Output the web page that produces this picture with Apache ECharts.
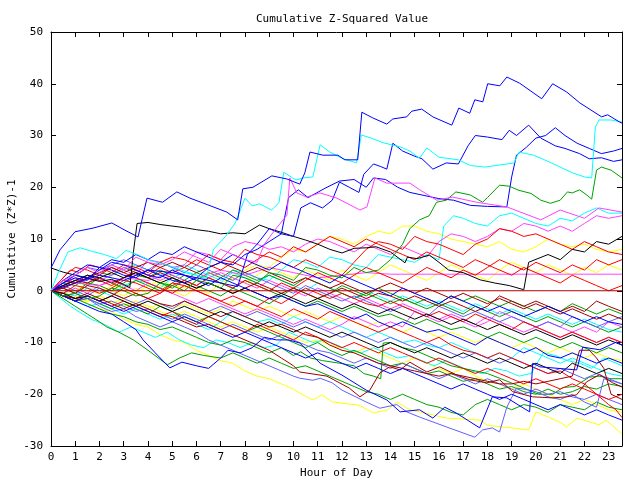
<!DOCTYPE html>
<html><head><meta charset="utf-8">
<script src="https://cdn.jsdelivr.net/npm/echarts@6/dist/echarts.min.js"></script>
<style>html,body{margin:0;padding:0;background:#fff}#c{width:640px;height:480px}</style>
</head><body><div id="c"></div>
<script>
// ---- tick labels ----
const xTicks = [0,1,2,3,4,5,6,7,8,9,10,11,12,13,14,15,16,17,18,19,20,21,22,23];
const yTicks = [-30,-20,-10,0,10,20,30,40,50];
// ---- series: [hour, cumulative value] vertices ----
const zeroLine = [[0,0],[23.55,0]];
const blueTop = [[0,4.4],[0.37,7.9],[0.99,11.4],[1.73,12.1],[2.51,13.1],[3.05,11.7],[3.59,10.4],[3.96,17.9],[4.6,17.1],[5.19,19.1],[5.73,17.9],[6.47,16.6],[7.25,15.2],[7.7,13.7],[7.91,19.7],[8.33,20.0],[9.11,22.2],[9.73,21.6],[10.26,20.6],[10.47,22.8],[10.68,26.8],[11.21,26.2],[11.83,26.2],[12.12,25.3],[12.65,25.3],[12.82,34.5],[13.27,33.4],[13.85,32.2],[14.1,33.2],[14.67,33.6],[14.88,34.7],[15.29,35.1],[15.75,33.6],[16.53,32.0],[16.82,35.3],[17.27,34.3],[17.48,36.9],[17.81,36.5],[18.01,40.0],[18.51,39.6],[18.8,41.3],[19.33,40.1],[20.24,37.1],[20.69,40.0],[21.27,38.4],[21.81,36.3],[22.71,33.6],[22.96,34.0],[23.45,32.6],[23.55,32.4]];
const cyanTop = [[0,0],[0.3,3.5],[0.7,7.5],[1.2,8.3],[1.7,7.6],[2.2,7],[2.7,6.2],[3.1,7.8],[3.6,6.9],[4.1,5.8],[4.6,5.2],[5.1,4.5],[5.5,3.8],[6,3],[6.4,2.4],[6.7,8],[7.2,10.5],[7.6,13.1],[8.0,17.9],[8.3,16.4],[8.6,16.8],[9.1,15.6],[9.4,17],[9.6,22.9],[10.1,21.4],[10.4,21.8],[10.8,22],[11.1,28.2],[11.5,26.8],[12,25.6],[12.6,24.7],[12.8,30.1],[13.2,29.5],[13.7,28.6],[14.4,27.8],[14.8,27],[15.2,25.6],[15.5,27.6],[16,25.8],[16.8,25.3],[17.3,24.2],[17.9,23.9],[18.5,24.3],[19.1,24.7],[19.3,26.8],[19.6,26.5],[19.9,26.2],[20.5,25],[21,23.9],[21.5,22.8],[22,22],[22.3,21.8],[22.45,31.6],[22.6,33],[23.1,33],[23.55,32.6]];
const blueMidA = [[0,0],[1,1.5],[2,3],[3,2],[4,4],[5,3.5],[6,2.5],[7,1.5],[7.7,0.8],[8.1,7],[8.5,9],[9,12],[9.5,11],[10,10.5],[10.3,16],[10.7,17],[11.2,16],[11.6,17.5],[11.9,21],[12.3,20],[12.7,19],[12.9,22.5],[13.3,24.5],[13.6,24],[13.85,23.5],[14.1,28.5],[14.5,27],[15,26],[15.3,25.5],[15.75,23.5],[16.3,24.7],[16.8,24.5],[17.2,28],[17.5,30],[18,29.7],[18.6,29.2],[18.9,31],[19.2,30],[19.7,32],[20.2,29.5],[20.8,28],[21.2,27.5],[21.8,26.5],[22.2,25.5],[22.7,25.7],[23.2,25],[23.55,25.3]];
const blueMidB = [[0,0],[0.5,1.5],[1,2.5],[1.5,2],[2,4.5],[2.5,4],[3,3],[3.5,2.5],[4,4],[4.5,3],[5,2],[5.5,1.5],[6,2.5],[6.5,4.5],[7,5.5],[7.5,5],[8,7],[8.5,8],[9,9.5],[9.5,11],[9.8,18],[10.2,19.5],[10.6,18],[11.3,19.8],[11.9,21.2],[12.5,21.5],[13,20],[13.3,21.8],[13.8,21.5],[14.3,20],[14.8,19],[15.3,18.5],[16,17.8],[16.6,17.5],[17.3,16.5],[18,16.3],[18.8,16.2],[19.0,22],[19.2,26.2],[19.6,27.7],[20,29.5],[20.4,30],[20.8,31.5],[21.2,30],[21.7,28.5],[22.2,27.5],[22.7,26.5],[23.2,27],[23.55,27.5]];
const magentaHigh = [[0,0],[0.5,2],[1,3],[1.5,4.5],[2,3.5],[2.5,5],[3,4],[3.5,6.5],[4,5.5],[4.5,5],[5,6],[5.5,7.5],[6,6.5],[6.5,5.5],[7,8],[7.5,7],[8,6],[8.5,5.5],[8.8,9],[9.23,11.7],[9.73,14.6],[9.85,21.8],[10.14,18.9],[10.55,18.1],[11.09,18.9],[11.79,17.9],[12.74,15.6],[13.03,16.2],[13.36,21.8],[13.85,20.8],[14.8,20.8],[15.21,19.5],[15.91,17.5],[16.57,18.1],[17.56,17.1],[18.8,16.2],[20.2,13.7],[21,15.6],[22,14],[22.6,16],[23.55,15.2]];
const greenHigh = [[0,0],[0.5,-1],[1,-0.5],[1.5,-1.5],[2,-1],[2.5,0.5],[3,0],[3.5,-1],[4,-0.5],[4.5,1.5],[5,1],[5.5,0],[6,2],[6.5,1.5],[7,0.5],[7.5,3],[8,2.5],[8.5,1.5],[9,3.5],[9.5,3],[10,2],[10.5,4.5],[11,4],[11.5,3],[12,2.5],[12.5,4.5],[13,3.5],[13.5,4],[14,6],[14.5,9],[14.8,12],[15.2,13.7],[15.6,14.5],[15.9,17.1],[16.3,17.5],[16.7,19.1],[17.3,18.5],[17.8,17.1],[18,18],[18.5,20.4],[18.9,20.2],[19.3,19.4],[19.8,18.8],[20.2,17.5],[20.6,16.9],[21,17.5],[21.3,19.1],[21.5,18.9],[21.8,19.5],[22.1,18.5],[22.3,17.7],[22.5,23.3],[22.7,23.9],[23.1,23.3],[23.55,21.8]];
const blackHigh = [[0,4.4],[0.5,3.6],[1,3],[1.5,2.4],[2,1.8],[2.5,2.2],[3,1.2],[3.25,0.6],[3.4,7.5],[3.55,13],[4,13.2],[4.5,12.8],[5,12.5],[5.5,12.2],[6,11.8],[6.5,11.5],[7,11],[7.5,11.2],[8,11],[8.6,12.7],[9,12],[9.5,11.3],[10,10.5],[10.5,9.8],[11,9],[11.5,8],[12,7.3],[12.5,8.2],[13,8.3],[13.4,8.5],[14,7.5],[14.6,5.4],[14.7,6.5],[15.1,6.2],[15.6,6.9],[16,5.5],[16.4,4],[17,3.5],[17.7,2.1],[18.3,1.5],[18.9,1],[19.5,0.2],[19.7,5.5],[20.5,7],[21,6],[21.5,8],[22,7.5],[22.5,9.5],[23,9],[23.55,10.5]];
const redHigh = [[0,0],[0.4,2],[0.8,4],[1.2,3.5],[1.6,5],[2,4.5],[2.5,3.5],[3,5],[3.5,4.5],[4,3.5],[4.5,5.5],[5,6.5],[5.5,6],[6,5],[6.5,7],[7,6],[7.5,5.5],[8,8],[8.5,7],[9,6.5],[9.5,5.5],[10,4.5],[10.5,6],[11,5],[11.5,4],[12,3],[12.5,5.5],[13,8],[13.5,9.5],[14,9],[14.5,8],[15,10.5],[15.5,9.5],[16,9],[16.5,8],[17,7],[17.5,9],[18,10],[18.5,12],[19,11.5],[19.5,10.5],[20,11],[20.5,10],[21,9],[21.5,8],[22,9.5],[22.5,8.5],[23,7.5],[23.55,7]];
const magentaMid = [[0,0],[0.5,1],[1,2.5],[1.5,1.5],[2,3],[2.5,5],[3,4],[3.5,3],[4,6],[4.5,5.5],[5,4.5],[5.5,5],[6,7.5],[6.5,7],[7,6],[7.5,8.5],[8,9.5],[8.5,9],[9,8],[9.5,8.5],[10,7.5],[10.5,9],[11,10],[11.5,9.5],[12,8.5],[12.5,7.5],[13,9],[13.5,8],[14,7],[14.5,8.5],[15,7.5],[15.5,6.5],[16,9.5],[16.5,11],[17,10.5],[17.5,9.5],[18,10.5],[18.5,12],[19,11.5],[19.5,13],[20,12.5],[20.5,11.5],[21,12.5],[21.5,11.5],[22,13],[22.5,14.5],[23,14],[23.55,14.5]];
const cyanMid = [[0,0],[0.5,-0.5],[1,-1],[1.5,0.5],[2,0],[2.5,-1],[3,1],[3.5,2],[4,1.5],[4.5,0.5],[5,2.5],[5.5,3.5],[6,3],[6.5,2],[7,1.5],[7.5,4],[8,3.5],[8.5,2.5],[9,2],[9.5,4],[10,6],[10.5,5.5],[11,4.5],[11.5,6.5],[12,6],[12.5,5],[13,4.5],[13.5,7],[14,6.5],[14.5,6],[15,5.5],[15.5,7],[16,6],[16.2,12.5],[16.6,14.5],[17,14],[17.5,13],[18,12.5],[18.5,14.5],[19,15],[19.5,14],[20,13],[20.5,12.5],[21,14],[21.5,13.5],[22,15],[22.5,16],[23,15],[23.55,15]];
const yellowHigh = [[0,0],[0.5,-1],[1,0.5],[1.5,0],[2,-0.5],[2.5,1],[3,0.5],[3.5,-0.5],[4,1],[4.5,2],[5,1],[5.5,0.5],[6,2],[6.5,3.5],[7,3],[7.5,2],[8,4],[8.5,5],[9,4.5],[9.5,6.5],[10,8],[10.5,7.5],[11,9],[11.5,10.5],[12,10],[12.5,9],[13,10.5],[13.5,11.5],[14,11],[14.5,12.5],[15,12.5],[15.5,11.5],[16,11],[16.5,10],[17,9.5],[17.5,9],[18,8.5],[18.5,9.5],[19,8],[19.5,7.5],[20,8.5],[20.5,10],[21,9],[21.5,8.5],[22,9],[22.5,8],[23,7.5],[23.55,8]];
const magentaFlat = [[0,0],[1,1.5],[2,1],[3,2.5],[4,2],[5,3.5],[6,2.5],[7,4],[8,3],[9,4.5],[10,3.5],[11,2.5],[12,3],[13,3.5],[14,3.2],[23.55,3.2]];
const redMid = [[0,0],[0.5,-0.5],[1,1],[1.5,0.5],[2,-0.5],[2.5,0.5],[3,2],[3.5,1.5],[4,0.5],[4.5,-0.5],[5,1.5],[5.5,1],[6,0],[6.5,-1],[7,-2],[7.5,-1],[8,-2],[8.5,-3],[9,-1.5],[9.5,-2.5],[10,-1],[10.5,0.5],[11,-0.5],[11.5,-1.5],[12,-0.5],[12.5,-1.5],[13,-2.5],[13.5,-3],[14,-2],[14.5,-3],[15,-4],[15.5,-5],[16,-4],[16.5,-5],[17,-6],[17.5,-4.5],[18,-5.5],[18.5,-6.5],[19,-7.5],[19.5,-6],[20,-7],[20.5,-8],[21,-9],[21.5,-8],[22,-9],[22.5,-10],[23,-9],[23.55,-10]];
const greenMid = [[0,0],[0.5,-1],[1,-2],[1.5,-1.5],[2,-2.5],[2.5,-3.5],[3,-2.5],[3.5,-3.5],[4,-4.5],[4.5,-3],[5,-4],[5.5,-5],[6,-6],[6.5,-5],[7,-6],[7.5,-7],[8,-8],[8.5,-7],[9,-8],[9.5,-9],[10,-10],[10.5,-11],[11,-10],[11.5,-11.5],[12,-12.5],[12.5,-11.5],[13,-12.5],[13.5,-13.5],[14,-14.5],[14.5,-14],[15,-15],[15.5,-16],[16,-15.5],[16.5,-16.5],[17,-17.5],[17.5,-17],[18,-18],[18.5,-19],[19,-18.5],[19.5,-19.5],[20,-20],[20.5,-19],[21,-20],[21.5,-19.5],[22,-18.5],[22.5,-19],[23,-18],[23.55,-18.5]];
const greenLowA = [[0,0],[0.5,-1],[1,-1.5],[1.5,-2.5],[2,-3.5],[2.5,-4.5],[3,-5],[3.5,-6],[4,-6.5],[4.5,-7.5],[5,-7],[5.5,-8],[6,-9],[6.5,-10],[7,-10.5],[7.5,-9.5],[8,-10],[8.5,-11],[9,-12],[9.5,-11],[10,-12.5],[10.3,-11.8],[10.7,-13],[11.2,-13.5],[11.9,-14],[12.5,-14.5],[12.9,-16],[13.3,-16.5],[13.6,-17],[13.7,-10.1],[14,-10],[14.5,-11],[15,-11.5],[15.5,-12.5],[16,-13.5],[16.5,-14.5],[17,-15],[17.5,-15.5],[18,-16],[18.5,-16.9],[19.3,-18.4],[20.1,-20],[20.7,-20],[21.1,-18.7],[21.6,-18.5],[22.2,-16.7],[22.6,-16.5],[23.1,-17],[23.55,-17]];
const greenLowB = [[0,0],[0.5,-1.5],[1,-3],[1.5,-4.5],[2,-6],[2.3,-7],[2.8,-8],[3.4,-9.5],[4,-11.5],[4.8,-14.3],[5.3,-13],[5.8,-12],[6.3,-12.5],[7,-13],[7.5,-12],[8,-13],[8.5,-14],[9,-13],[9.5,-14],[10,-15],[10.5,-14.5],[11,-15.5],[11.5,-16.5],[12,-17.5],[12.5,-18.5],[13,-19.5],[13.5,-20],[14,-21],[14.5,-20],[15,-21],[15.5,-22],[16,-22.5],[16.5,-23.5],[17,-24],[17.5,-22],[18,-21],[18.5,-22],[19,-23],[19.5,-22],[20,-22.5],[20.5,-23.5],[21,-22],[21.5,-22.5],[22,-23],[22.5,-21.5],[23,-22.5],[23.55,-23]];
const darkredLowA = [[0,0],[0.5,-1],[1,-1.5],[1.5,-0.5],[2,-1.5],[2.5,-2.5],[3,-3.5],[3.5,-2.5],[4,-3.5],[4.5,-4.5],[5,-5],[5.5,-6],[6,-7],[6.5,-6.5],[7,-7.5],[7.5,-8.5],[8,-9.5],[8.5,-10.5],[9,-11.5],[9.5,-13],[10,-14.5],[10.26,-15.7],[11.38,-16.5],[12.3,-18.8],[12.74,-20.5],[13.15,-19.2],[13.56,-15.9],[13.97,-14.7],[14.4,-15.3],[14.8,-13.8],[15.5,-15.7],[16.03,-14.7],[16.74,-16.3],[17.27,-17.2],[17.97,-17.8],[18.5,-17.2],[19.04,-19.5],[19.87,-20.5],[20.69,-20.7],[21.27,-20.5],[21.68,-20.1],[22.09,-17.6],[22.63,-16.2],[23.17,-17.8],[23.55,-18.6]];
const darkredLowB = [[0,0],[0.5,0.5],[1,-0.5],[1.5,1],[2,0.5],[2.5,-0.5],[3,-1.5],[3.5,-0.5],[4,-1.5],[4.5,-2.5],[5,-3],[5.5,-2],[6,-3],[6.5,-4],[7,-5],[7.5,-4],[8,-5],[8.5,-6],[9,-7],[9.5,-6.5],[10,-7.5],[10.5,-8.5],[11,-9],[11.5,-10.5],[12,-11.5],[12.5,-12],[13,-13],[13.5,-14],[14,-14.5],[14.5,-15],[15,-15.5],[15.5,-16],[16,-16.5],[16.5,-16],[17,-16.5],[17.5,-17],[18,-17.5],[18.5,-18],[19,-18],[19.5,-17.5],[20,-18],[20.5,-17.5],[21,-17],[21.5,-16.5],[21.8,-11.5],[22.2,-11.5],[22.5,-13],[22.8,-15],[23.1,-20],[23.55,-21]];
const slateLow = [[0,0],[0.5,-1],[1,-2],[1.5,-1.5],[2,-3],[2.5,-4],[3,-3.5],[3.5,-5],[4,-6],[4.5,-7],[5,-6],[5.5,-7],[6,-8],[6.5,-9.5],[7,-10.5],[7.5,-11.5],[8,-12.5],[8.5,-13.5],[9,-14.5],[9.5,-15.5],[10,-16.5],[10.26,-16.9],[10.8,-17.3],[11.1,-16.9],[11.6,-17.8],[12,-19.2],[13,-21.5],[13.56,-22.7],[14.26,-22],[14.67,-23.4],[15.2,-24.4],[16.3,-26.3],[17.48,-28.3],[17.8,-26.9],[18.2,-26.5],[18.5,-27.3],[18.8,-22.5],[19.2,-18.8],[19.5,-19],[20,-19.5],[20.5,-20.5],[21,-21],[21.5,-20],[22,-21.5],[22.5,-22.5],[22.8,-17],[23.2,-17.5],[23.55,-18]];
const blueLow = [[0,0],[0.5,-1],[1,-2],[1.5,-3],[2,-4],[2.5,-4.5],[3,-6],[3.5,-7.5],[3.8,-9.5],[4.3,-12],[4.9,-14.9],[5.4,-13.8],[6,-14.5],[6.5,-15],[7,-13],[7.3,-11.5],[7.8,-12],[8.3,-11],[8.8,-9],[9.3,-9.5],[9.8,-9.5],[10.26,-10.1],[11.1,-14],[12,-16.3],[13,-19.2],[13.85,-21.1],[14.4,-23.4],[15.2,-23],[15.75,-24.6],[16.24,-22.5],[16.74,-23.7],[17.68,-26.5],[18.2,-20.5],[18.8,-20.7],[19.74,-23.4],[19.87,-14],[20.16,-14.7],[21.68,-15.3],[21.93,-10.9],[22.63,-11.4],[23.33,-9.9],[23.55,-10.5]];
const yellowLowA = [[0,0],[0.5,-0.5],[1,-1.5],[1.5,-2],[2,-1],[2.5,-2],[3,-3],[3.5,-2],[4,-3],[4.5,-4],[5,-5],[5.5,-4],[6,-5],[6.5,-6],[7,-7],[7.5,-6],[8,-7],[8.5,-8],[9,-7],[9.5,-8],[10,-9],[10.5,-10],[11,-9.5],[11.5,-10.5],[12,-11],[12.5,-12],[13,-11],[13.5,-12],[14,-13],[14.5,-14],[15,-13],[15.5,-14],[16,-15],[16.5,-16],[17,-15],[17.5,-16.5],[18,-17.5],[18.5,-18],[19,-19],[19.5,-18],[20,-19],[20.5,-20],[21,-21],[21.5,-22],[22,-21],[22.5,-22],[23,-23],[23.55,-23.5]];
const yellowLowB = [[0,0],[0.5,-1.2],[1,-1.5],[1.5,-2.5],[2,-3.5],[2.5,-4],[3,-5.5],[3.5,-6.5],[4,-7],[4.5,-8.5],[5,-9.5],[5.5,-10],[6,-11.5],[6.5,-12.5],[7,-13.5],[7.5,-14],[8,-15.5],[8.5,-16.5],[9,-17],[9.5,-18],[10,-19],[10.26,-19.8],[10.8,-21.1],[11.17,-20.1],[11.6,-21.5],[12.7,-22.1],[13.3,-23.6],[13.85,-23.1],[14.26,-21.5],[14.8,-23],[15.75,-24],[16.3,-24.6],[17.7,-25],[18,-26],[19,-26.5],[19.7,-26.9],[20,-23.4],[21,-25.4],[21.27,-26.3],[21.7,-24.6],[22.6,-25.9],[22.9,-25],[23.55,-27.7]];
const cyanLow = [[0,0],[0.4,-1.5],[0.8,-3],[1.2,-4.2],[1.7,-5.6],[2.2,-6.5],[2.8,-8],[3.3,-7],[3.8,-8],[4.3,-9],[4.8,-8],[5.3,-9.5],[5.8,-10.5],[6.3,-11],[6.8,-9.5],[7.3,-10],[7.8,-11],[8.3,-10],[8.8,-11],[9.3,-10.5],[9.8,-8],[10.3,-9],[10.8,-10],[11.3,-9.5],[11.8,-10.5],[12.3,-11.5],[12.8,-12],[13.3,-11],[13.8,-12],[14.3,-13],[14.8,-12.5],[15.3,-13.5],[15.8,-14.5],[16.3,-13.5],[16.8,-14.5],[17.3,-15.5],[17.8,-16],[18.3,-15],[18.8,-15.5],[19.3,-16.5],[19.8,-16],[20.3,-12],[20.8,-12.5],[21.3,-13.5],[21.8,-14],[22.3,-15],[22.8,-13],[23.3,-14],[23.55,-14.5]];
const blueA = [[0,0],[0.5,1.5],[1,3],[1.5,2.5],[2,4],[2.5,5.5],[3,5],[3.5,4],[4,3],[4.5,2.5],[5,4],[5.5,3],[6,2],[6.5,1],[7,2.5],[7.5,1.5],[8,0.5],[8.5,-0.5],[9,-1.5],[9.5,-1],[10,-2],[10.5,-3],[11,-2.5],[11.5,-3.5],[12,-4.5],[12.5,-5.5],[13,-4.5],[13.5,-6],[14,-7],[14.5,-6],[15,-7],[15.5,-8],[16,-7.5],[16.5,-8.5],[17,-9.5],[17.5,-10.5],[18,-9],[18.5,-10],[19,-11],[19.5,-12],[20,-11],[20.5,-12.5],[21,-13],[21.5,-12],[22,-13],[22.5,-14],[23,-13],[23.55,-14]];
const redA = [[0,0],[0.3,1.5],[0.7,3.5],[1,4.5],[1.5,4],[2,3],[2.5,4.5],[3,3.5],[3.5,2.5],[4,1.5],[4.5,0.5],[5,-0.5],[5.5,1],[6,0],[6.5,-1],[7,-2],[7.5,-3],[8,-2],[8.5,-3],[9,-4],[9.5,-5],[10,-3.5],[10.5,-4.5],[11,-5.5],[11.5,-4],[12,-5],[12.5,-6],[13,-7],[13.5,-8],[14,-7],[14.5,-8],[15,-9],[15.5,-10],[16,-9],[16.5,-10.5],[17,-11.5],[17.5,-12],[18,-13],[18.5,-12],[19,-13],[19.5,-14],[20,-15],[20.5,-16],[21,-15.5],[21.5,-17],[22,-18],[22.5,-20],[23,-22],[23.3,-23],[23.55,-24.5]];
const greenA = [[0,0],[0.5,0.5],[1,-0.5],[1.5,1.5],[2,1],[2.5,0],[3,1.5],[3.5,3],[4,2.5],[4.5,1.5],[5,0.5],[5.5,2],[6,1],[6.5,0],[7,-1],[7.5,0.5],[8,-0.5],[8.5,-1.5],[9,-2.5],[9.5,-1],[10,-2],[10.5,-3],[11,-2],[11.5,-3],[12,-4],[12.5,-3],[13,-4],[13.5,-5],[14,-4.5],[14.5,-5.5],[15,-6.5],[15.5,-5.5],[16,-6.5],[16.5,-7.5],[17,-7],[17.5,-8],[18,-9],[18.5,-8],[19,-9],[19.5,-10],[20,-9],[20.5,-10],[21,-11],[21.5,-10],[22,-11],[22.5,-12],[23,-11],[23.55,-12]];
const magentaA = [[0,0],[0.5,-0.5],[1,0.5],[1.5,-0.5],[2,1],[2.5,2],[3,1],[3.5,0],[4,1.5],[4.5,0.5],[5,-0.5],[5.5,-1.5],[6,-2.5],[6.5,-1.5],[7,-2.5],[7.5,-3.5],[8,-4.5],[8.5,-3.5],[9,-4.5],[9.5,-5.5],[10,-6.5],[10.5,-5.5],[11,-6.5],[11.5,-7.5],[12,-6.5],[12.5,-5],[13,-6],[13.5,-7],[14,-6],[14.5,-7],[15,-4],[15.5,-5],[16,-6],[16.5,-5],[17,-6],[17.5,-7],[18,-6],[18.5,-4],[19,-5],[19.5,-6],[20,-7],[20.5,-6],[21,-7],[21.5,-8],[22,-7],[22.5,-8],[23,-6],[23.55,-7]];
const cyanA = [[0,0],[0.5,-1],[1,-2],[1.5,-3],[2,-2.5],[2.5,-3.5],[3,-4.5],[3.5,-3.5],[4,-4.5],[4.5,-5.5],[5,-4.5],[5.5,-5.5],[6,-6.5],[6.5,-7.5],[7,-6],[7.5,-4],[8,-5],[8.5,-6],[9,-5.5],[9.5,-6.5],[10,-5],[10.5,-6],[11,-7],[11.5,-6],[12,-7],[12.5,-8],[13,-9],[13.5,-8],[14,-9],[14.5,-10],[15,-9.5],[15.5,-10.5],[16,-11],[16.5,-10],[17,-11],[17.5,-12],[18,-13],[18.5,-12],[19,-13],[19.5,-11],[20,-12],[20.5,-13],[21,-14],[21.5,-13],[22,-14],[22.5,-15],[23,-16],[23.55,-16.5]];
const darkredA = [[0,0],[0.5,1],[1,2],[1.5,1.5],[2,2.5],[2.5,1.5],[3,2.5],[3.5,3.5],[4,2.5],[4.5,3.5],[5,2.5],[5.5,1.5],[6,0.5],[6.5,1.5],[7,0.5],[7.5,-0.5],[8,0.5],[8.5,1.5],[9,0.5],[9.5,-0.5],[10,0.5],[10.5,-0.5],[11,-1.5],[11.5,-0.5],[12,0.5],[12.5,-0.5],[13,-1.5],[13.5,-0.5],[14,-1],[14.5,-2],[15,-1],[15.5,-2],[16,-3],[16.5,-2],[17,-3],[17.5,-4],[18,-3],[18.5,-1],[19,-2],[19.5,-3],[20,-2],[20.5,-3],[21,-4],[21.5,-3],[22,-4],[22.5,-2],[23,-3],[23.55,-4]];
const yellowA = [[0,0],[0.5,1],[1,0],[1.5,1.5],[2,1],[2.5,0],[3,-1],[3.5,0.5],[4,-0.5],[4.5,1],[5,0],[5.5,-1],[6,0.5],[6.5,-0.5],[7,1.5],[7.5,2.5],[8,1.5],[8.5,3],[9,4.5],[9.5,3.5],[10,2.5],[10.5,4],[11,3],[11.5,2],[12,4],[12.5,3],[13,2],[13.5,3.5],[14,5],[14.5,4],[15,3],[15.5,2],[16,3.5],[16.5,5],[17,4],[17.5,3],[18,2],[18.5,4],[19,5.5],[19.5,4.5],[20,3.5],[20.5,5],[21,4],[21.5,3],[22,4.5],[22.5,3.5],[23,5],[23.55,4]];
const blackA = [[0,0],[0.5,-0.5],[1,-1.5],[1.5,-1],[2,-2],[2.5,-1],[3,-2],[3.5,-3],[4,-2],[4.5,-3],[5,-4],[5.5,-3],[6,-4],[6.5,-5],[7,-4],[7.5,-5],[8,-6],[8.5,-7],[9,-6],[9.5,-7],[10,-8],[10.5,-7],[11,-8],[11.5,-9],[12,-8],[12.5,-9],[13,-10],[13.5,-11],[14,-10],[14.5,-11],[15,-12],[15.5,-11],[16,-12],[16.5,-13],[17,-12],[17.5,-13],[18,-14],[18.5,-13],[19,-14],[19.5,-15],[20,-14],[20.5,-15],[21,-16],[21.5,-14],[22,-15],[22.5,-16],[23,-15],[23.55,-16]];
const slateA = [[0,0],[0.5,1.5],[1,3],[1.5,4.5],[2,4],[2.5,5],[3,6],[3.5,5],[4,4],[4.5,5.5],[5,4.5],[5.5,3.5],[6,5],[6.5,4],[7,3],[7.5,2],[8,3.5],[8.5,2.5],[9,1.5],[9.5,0.5],[10,-0.5],[10.5,1],[11,0],[11.5,-1],[12,-2],[12.5,-1],[13,-2],[13.5,-3],[14,-4],[14.5,-3],[15,-4],[15.5,-5],[16,-3],[16.5,-4],[17,-5],[17.5,-4],[18,-5],[18.5,-6],[19,-5],[19.5,-6],[20,-7],[20.5,-6],[21,-7],[21.5,-5],[22,-6],[22.5,-7],[23,-6],[23.55,-5]];
const redB = [[0,0],[0.5,-0.5],[1,-1.5],[1.5,-1],[2,-2],[2.5,-1],[3,0.5],[3.5,-0.5],[4,-1.5],[4.5,-0.5],[5,1],[5.5,2],[6,1],[6.5,2.5],[7,1.5],[7.5,0.5],[8,2],[8.5,1],[9,0],[9.5,1.5],[10,0.5],[10.5,2],[11,3.5],[11.5,2.5],[12,1.5],[12.5,3],[13,4.5],[13.5,3.5],[14,2.5],[14.5,1.5],[15,3],[15.5,4.5],[16,3.5],[16.5,2.5],[17,4],[17.5,3],[18,4.5],[18.5,6],[19,5],[19.5,4],[20,5.5],[20.5,4.5],[21,3.5],[21.5,5],[22,4],[22.5,6],[23,5],[23.55,6]];
const slateB = [[0,0],[0.5,-1],[1,-0.5],[1.5,-1.5],[2,-2.5],[2.5,-2],[3,-3],[3.5,-4],[4,-3.5],[4.5,-4.5],[5,-5.5],[5.5,-4.5],[6,-5.5],[6.5,-6.5],[7,-7.5],[7.5,-6.5],[8,-7.5],[8.5,-8.5],[9,-9.5],[9.5,-8.5],[10,-9.5],[10.5,-10.5],[11,-11.5],[11.5,-12],[12,-13],[12.5,-14],[13,-13],[13.5,-14],[14,-15],[14.5,-14],[15,-15],[15.5,-16],[16,-17],[16.5,-16],[17,-17],[17.5,-18],[18,-17],[18.5,-18],[19,-19],[19.5,-20],[20,-19],[20.5,-20],[21,-19.5],[21.5,-20.5],[22,-21],[22.5,-20],[23,-21],[23.55,-22]];
const greenB = [[0,0],[0.5,1],[1,2],[1.5,1],[2,2.5],[2.5,1.5],[3,0.5],[3.5,2],[4,1],[4.5,0],[5,1.5],[5.5,3],[6,2],[6.5,3.5],[7,2.5],[7.5,4],[8,3],[8.5,2],[9,3],[9.5,2],[10,1],[10.5,2.5],[11,1.5],[11.5,0.5],[12,-0.5],[12.5,-1.5],[13,-0.5],[13.5,-1.5],[14,-2.5],[14.5,-1.5],[15,-2.5],[15.5,-3.5],[16,-2.5],[16.5,-3.5],[17,-4.5],[17.5,-3],[18,-4],[18.5,-5],[19,-4],[19.5,-5],[20,-6],[20.5,-5],[21,-6],[21.5,-7],[22,-6],[22.5,-7],[23,-8],[23.55,-7]];
const redC = [[0,0],[0.5,2],[1,1.5],[1.5,3],[2,2],[2.5,1],[3,2.5],[3.5,4],[4,3],[4.5,4.5],[5,3.5],[5.5,4.5],[6,6],[6.5,5],[7,4],[7.5,5.5],[8,4.5],[8.5,6],[9,7.5],[9.5,6.5],[10,8.5],[10.5,7.5],[11,9],[11.5,10.5],[12,9.5],[12.5,8.5],[13,10],[13.5,9],[14,8],[14.5,7],[15,6],[15.5,7.5],[16,6.5],[16.5,5.5],[17,4.5],[17.5,6],[18,5],[18.5,4],[19,3],[19.5,4.5],[20,3.5],[20.5,2.5],[21,1.5],[21.5,3],[22,2],[22.5,1],[23,0],[23.55,1]];
const blueB = [[0,0],[0.5,2],[1,3.5],[1.5,5],[2,4.5],[2.5,6],[3,5.5],[3.5,7],[4,6],[4.5,7.5],[5,7],[5.5,8.5],[6,7.5],[6.5,6.5],[7,5.5],[7.5,7],[8,6],[8.5,5],[9,4],[9.5,5.5],[10,4.5],[10.5,3.5],[11,2.5],[11.5,1.5],[12,3],[12.5,2],[13,1],[13.5,0],[14,-1],[14.5,0.5],[15,-0.5],[15.5,-1.5],[16,-2.5],[16.5,-1],[17,-2],[17.5,-3],[18,-4],[18.5,-3],[19,-4],[19.5,-5],[20,-4],[20.5,-3],[21,-4],[21.5,-5],[22,-6],[22.5,-5],[23,-6],[23.55,-6.5]];
const redD = [[0,0],[0.5,-1],[1,-2],[1.5,-1],[2,-2],[2.5,-3],[3,-2],[3.5,-3],[4,-4],[4.5,-5],[5,-4],[5.5,-5.5],[6,-6.5],[6.5,-5],[7,-6],[7.5,-7],[8,-8],[8.5,-6.5],[9,-7.5],[9.5,-8.5],[10,-9.5],[10.5,-8],[11,-9],[11.5,-10],[12,-11],[12.5,-10],[13,-11],[13.5,-12],[14,-11],[14.5,-12],[15,-13],[15.5,-14],[16,-13],[16.5,-14],[17,-15],[17.5,-16],[18,-15],[18.5,-16],[19,-17],[19.5,-18],[20,-17],[20.5,-18],[21,-19],[21.5,-18],[22,-19],[22.5,-20],[23,-21],[23.55,-20]];
const greenC = [[0,0],[0.5,1.5],[1,1],[1.5,2.5],[2,3.5],[2.5,3],[3,4.5],[3.5,3.5],[4,2.5],[4.5,4],[5,3],[5.5,2],[6,3.5],[6.5,2.5],[7,1.5],[7.5,0.5],[8,2],[8.5,1],[9,0],[9.5,-1],[10,0.5],[10.5,-0.5],[11,-1.5],[11.5,-0.5],[12,1],[12.5,0],[13,-1],[13.5,0.5],[14,-0.5],[14.5,-1.5],[15,-2.5],[15.5,-1.5],[16,-2.5],[16.5,-1],[17,-2],[17.5,-1],[18,-2],[18.5,-3],[19,-2],[19.5,-3],[20,-4],[20.5,-3],[21,-4],[21.5,-2.5],[22,-3.5],[22.5,-4.5],[23,-3.5],[23.55,-4.5]];
const blueC = [[0,0],[0.5,-1],[1,-2],[1.5,-1],[2,-2],[2.5,-3],[3,-4],[3.5,-3],[4,-4],[4.5,-5],[5,-6],[5.5,-5],[6,-6],[6.5,-7],[7,-8],[7.5,-9],[8,-8],[8.5,-9],[9,-10],[9.5,-11],[10,-12],[10.5,-13],[11,-12],[11.5,-13],[12,-14],[12.5,-15],[13,-14],[13.5,-15],[14,-16],[14.5,-15],[15,-16],[15.5,-17],[16,-18],[16.5,-19],[17,-18],[17.5,-19],[18,-20],[18.5,-21],[19,-20],[19.5,-21],[20,-22],[20.5,-23],[21,-22],[21.5,-23],[22,-24],[22.5,-23],[23,-24],[23.55,-25]];
const magentaB = [[0,0],[0.5,0.5],[1,1.5],[1.5,2.5],[2,2],[2.5,3],[3,4.5],[3.5,4],[4,3],[4.5,2],[5,3],[5.5,2],[6,1],[6.5,2.5],[7,3.5],[7.5,2.5],[8,1.5],[8.5,0.5],[9,2],[9.5,1],[10,0],[10.5,-1],[11,0.5],[11.5,-0.5],[12,-1.5],[12.5,-2.5],[13,-1.5],[13.5,-2.5],[14,-3.5],[14.5,-2.5],[15,-3.5],[15.5,-4.5],[16,-5.5],[16.5,-4.5],[17,-5.5],[17.5,-6.5],[18,-5],[18.5,-6],[19,-7],[19.5,-8],[20,-7],[20.5,-8],[21,-9],[21.5,-8],[22,-9],[22.5,-10],[23,-9],[23.55,-10]];
const darkredB = [[0,0],[0.5,0.5],[1,1.5],[1.5,2.5],[2,3.5],[2.5,4.5],[3,3.5],[3.5,4.5],[4,5.5],[4.5,4.5],[5,5.5],[5.5,4.5],[6,3.5],[6.5,4.5],[7,5.5],[7.5,4.5],[8,3.5],[8.5,4.5],[9,3.5],[9.5,2.5],[10,1.5],[10.5,2.5],[11,1.5],[11.5,0.5],[12,1.5],[12.5,0.5],[13,-0.5],[13.5,0.5],[14,1.5],[14.5,0.5],[15,-0.5],[15.5,0.5],[16,-0.5],[16.5,-1.5],[17,-0.5],[17.5,-1.5],[18,-2.5],[18.5,-1.5],[19,-2.5],[19.5,-3.5],[20,-2.5],[20.5,-3.5],[21,-4.5],[21.5,-3.5],[22,-4.5],[22.5,-5.5],[23,-4.5],[23.55,-5.5]];
const slateC = [[0,0],[0.5,1],[1,0],[1.5,-1],[2,0.5],[2.5,-0.5],[3,-1.5],[3.5,-2.5],[4,-1.5],[4.5,-2.5],[5,-3.5],[5.5,-2],[6,-3],[6.5,-4],[7,-3],[7.5,-4],[8,-5],[8.5,-4],[9,-5],[9.5,-6],[10,-7],[10.5,-6],[11,-7],[11.5,-8],[12,-9],[12.5,-8],[13,-9],[13.5,-10],[14,-9],[14.5,-10],[15,-11],[15.5,-10],[16,-11],[16.5,-12],[17,-13],[17.5,-12],[18,-13],[18.5,-14],[19,-13],[19.5,-14],[20,-15],[20.5,-16],[21,-15],[21.5,-16],[22,-17],[22.5,-16],[23,-17],[23.55,-18]];
const cyanB = [[0,0],[0.5,1],[1,2],[1.5,3],[2,2],[2.5,3],[3,4],[3.5,5],[4,4],[4.5,3],[5,4],[5.5,5],[6,4],[6.5,3],[7,2],[7.5,3.5],[8,2.5],[8.5,1.5],[9,3],[9.5,2],[10,1],[10.5,0],[11,1.5],[11.5,0.5],[12,-0.5],[12.5,-1.5],[13,0],[13.5,-1],[14,-2],[14.5,-1],[15,-2],[15.5,-3],[16,-2],[16.5,-3],[17,-4],[17.5,-2.5],[18,-3.5],[18.5,-4.5],[19,-3.5],[19.5,-4.5],[20,-5.5],[20.5,-4.5],[21,-5.5],[21.5,-6.5],[22,-5.5],[22.5,-6.5],[23,-7.5],[23.55,-8]];
const blackB = [[0,0],[0.5,1],[1,2],[1.5,3],[2,2.5],[2.5,3.5],[3,2.5],[3.5,3.5],[4,2.5],[4.5,1.5],[5,2.5],[5.5,1.5],[6,0.5],[6.5,1.5],[7,0.5],[7.5,-0.5],[8,0.5],[8.5,-0.5],[9,-1.5],[9.5,-0.5],[10,-1.5],[10.5,-2.5],[11,-1.5],[11.5,-2.5],[12,-3.5],[12.5,-2.5],[13,-3.5],[13.5,-4.5],[14,-3.5],[14.5,-4.5],[15,-5.5],[15.5,-4.5],[16,-5.5],[16.5,-6.5],[17,-5.5],[17.5,-6.5],[18,-7.5],[18.5,-6.5],[19,-7.5],[19.5,-8.5],[20,-7.5],[20.5,-8.5],[21,-9.5],[21.5,-8.5],[22,-9.5],[22.5,-10.5],[23,-9.5],[23.55,-10.5]];
const yellowB = [[0,0],[0.5,-0.5],[1,-1],[1.5,-2],[2,-1.5],[2.5,-2.5],[3,-1.5],[3.5,-2.5],[4,-3.5],[4.5,-2.5],[5,-3.5],[5.5,-2.5],[6,-3.5],[6.5,-4.5],[7,-3.5],[7.5,-2],[8,-3],[8.5,-4],[9,-3],[9.5,-4],[10,-5],[10.5,-4],[11,-5],[11.5,-6],[12,-5],[12.5,-6],[13,-7],[13.5,-6],[14,-7],[14.5,-8],[15,-7],[15.5,-8],[16,-9],[16.5,-8],[17,-9],[17.5,-10],[18,-9],[18.5,-10],[19,-11],[19.5,-10],[20,-11],[20.5,-12],[21,-11],[21.5,-12],[22,-13],[22.5,-12],[23,-13],[23.55,-13.5]];

const RED='#ff0000', GREEN='#00a000', BLUE='#0000ff', MAGENTA='#ff40ff', CYAN='#00ffff',
      DARKRED='#a00000', YELLOW='#ffff00', BLACK='#000000', SLATE='#6060ff';

const lines = [
  [yellowA, YELLOW],[yellowB, YELLOW],[yellowHigh, YELLOW],[yellowLowA, YELLOW],[yellowLowB, YELLOW],
  [cyanA, CYAN],[cyanB, CYAN],[cyanMid, CYAN],[cyanLow, CYAN],
  [greenA, GREEN],[greenB, GREEN],[greenC, GREEN],[greenMid, GREEN],[greenLowA, GREEN],[greenLowB, GREEN],
  [magentaA, MAGENTA],[magentaB, MAGENTA],[magentaMid, MAGENTA],[magentaFlat, MAGENTA],
  [slateA, SLATE],[slateB, SLATE],[slateC, SLATE],[slateLow, SLATE],
  [redA, RED],[redB, RED],[redC, RED],[redD, RED],[redMid, RED],[redHigh, RED],
  [darkredA, DARKRED],[darkredB, DARKRED],[darkredLowA, DARKRED],[darkredLowB, DARKRED],
  [blackA, BLACK],[blackB, BLACK],[blackHigh, BLACK],
  [blueA, BLUE],[blueB, BLUE],[blueC, BLUE],[blueLow, BLUE],[blueMidA, BLUE],[blueMidB, BLUE],
  [greenHigh, GREEN],[magentaHigh, MAGENTA],[cyanTop, CYAN],[blueTop, BLUE],
  [zeroLine, '#b00000']
];

const FONT = 'DejaVu Sans Mono';
const chart = echarts.init(document.getElementById('c'), null, {renderer:'canvas'});
const tickStyle = {show:true, inside:true, length:5, lineStyle:{color:'#000', width:1}};
const axisLineStyle = {show:true, onZero:false, lineStyle:{color:'#000', width:1}};
chart.setOption({
  animation:false,
  backgroundColor:'#fff',
  title:{text:'Cumulative Z-Squared Value', left:337, top:9, textAlign:'center',
    textStyle:{fontFamily:FONT, fontSize:11, fontWeight:'normal', color:'#000'}},
  grid:{left:51, right:18, top:32, bottom:34, containLabel:false, outerBoundsMode:'none'},
  xAxis:[
    {type:'value', min:0, max:23.55, interval:1, position:'bottom',
     name:'Hour of Day', nameLocation:'middle', nameGap:22, nameMoveOverlap:false,
     nameTextStyle:{fontFamily:FONT, fontSize:11, color:'#000'},
     axisLine:axisLineStyle, axisTick:tickStyle, splitLine:{show:false},
     axisLabel:{fontFamily:FONT, fontSize:11, color:'#000', margin:6,
       formatter:v=> xTicks.indexOf(v) >= 0 ? String(v) : ''}},
    {type:'value', min:0, max:23.55, interval:1, position:'top',
     axisLine:axisLineStyle, axisTick:tickStyle, splitLine:{show:false}, axisLabel:{show:false}}
  ],
  yAxis:[
    {type:'value', min:-30, max:50, interval:10, position:'left',
     name:'Cumulative (Z*Z)-1', nameLocation:'middle', nameGap:33, nameRotate:90, nameMoveOverlap:false,
     nameTextStyle:{fontFamily:FONT, fontSize:11, color:'#000'},
     axisLine:axisLineStyle, axisTick:tickStyle, splitLine:{show:false},
     axisLabel:{fontFamily:FONT, fontSize:11, color:'#000', margin:8,
       formatter:v=> yTicks.indexOf(v) >= 0 ? String(v) : ''}},
    {type:'value', min:-30, max:50, interval:10, position:'right',
     axisLine:axisLineStyle, axisTick:tickStyle, splitLine:{show:false}, axisLabel:{show:false}}
  ],
  series: lines.map(([pts,col]) => ({
    type:'line', data:pts, showSymbol:false, symbol:'none', silent:true,
    lineStyle:{color:col, width:1}, clip:true
  }))
});
</script></body></html>
